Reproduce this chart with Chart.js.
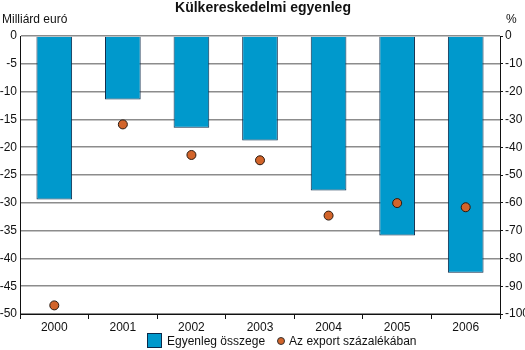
<!DOCTYPE html>
<html>
<head>
<meta charset="utf-8">
<script src="https://cdn.jsdelivr.net/npm/chart.js@4"></script>
<style>
  body { margin: 0; background: #fff; }
  #wrap { position: relative; width: 525px; height: 350px; }
  #legend { position: absolute; left: 147px; top: 333px; font: 12px "Liberation Sans Narrow", "Liberation Sans", Arial, sans-serif; color: #111; white-space: nowrap; }
  #legend span { display: inline-block; vertical-align: middle; }
  .box { width: 13px; height: 13px; background: #0099cc; border: 1px solid #0b2a4a; margin-right: 5px; }
  .dot { width: 6px; height: 6px; border-radius: 50%; background: #d2642a; border: 1px solid #333; margin: 0 4px 0 12px; }
</style>
</head>
<body>
<div id="wrap">
  <canvas id="chart" width="525" height="350"></canvas>
  <div id="legend">
    <span class="box"></span><span>Egyenleg összege</span><span class="dot"></span><span>Az export százalékában</span>
  </div>
</div>
<script>
const years = ["2000", "2001", "2002", "2003", "2004", "2005", "2006"]
const balance = [-29.4, -11.4, -16.5, -18.8, -27.8, -35.9, -42.6]
const exportPct = [-96.9, -31.8, -42.8, -44.7, -64.6, -60.1, -61.6]
const chartTitle = "Külkereskedelmi egyenleg"
const leftUnit = "Milliárd euró"
const rightUnit = "%"

const fontFamily = '"Liberation Sans Narrow", "Liberation Sans", Arial, sans-serif'

const textPlugin = {
  id: "texts",
  afterDraw(chart) {
    const ctx = chart.ctx
    ctx.save()
    ctx.fillStyle = "#111"
    ctx.textBaseline = "middle"
    ctx.font = "bold 14px " + fontFamily
    ctx.textAlign = "center"
    ctx.fillText(chartTitle, 263, 8)
    ctx.font = "12px " + fontFamily
    ctx.textAlign = "left"
    ctx.fillText(leftUnit, 2, 20)
    ctx.fillText(rightUnit, 506, 20)
    ctx.restore()
  }
}

const chartCanvas = document.getElementById("chart")
const myChart = new Chart(chartCanvas, {
  data: {
    labels: years,
    datasets: [
      {
        type: "line",
        label: "Az export százalékában",
        data: exportPct,
        yAxisID: "y1",
        showLine: false,
        pointRadius: 4.5,
        pointBackgroundColor: "#d2642a",
        pointBorderColor: "#2a1a10",
        pointBorderWidth: 1
      },
      {
        type: "bar",
        label: "Egyenleg összege",
        data: balance,
        yAxisID: "y",
        backgroundColor: "#0099cc",
        borderColor: "#0b2a4a",
        borderWidth: 1,
        barPercentage: 0.52,
        categoryPercentage: 1
      }
    ]
  },
  options: {
    responsive: false,
    animation: false,
    layout: { padding: { top: 36, left: 0, right: 0, bottom: 0 } },
    plugins: {
      legend: { display: false },
      tooltip: { enabled: false }
    },
    scales: {
      x: {
        offset: true,
        grid: { offset: true, drawOnChartArea: false, tickLength: 5, color: "#111" },
        border: { color: "#111", width: 1 },
        ticks: { color: "#111", font: { family: fontFamily, size: 12 }, padding: 1 },
        afterFit(scale) { scale.height = 36 }
      },
      y: {
        position: "left",
        min: -50, max: 0,
        ticks: { stepSize: 5, color: "#111", font: { family: fontFamily, size: 12 }, padding: 3 },
        grid: { color: "#8c8c8c", lineWidth: 1.5, tickLength: 0 },
        border: { color: "#111", width: 1 },
        afterFit(scale) { scale.width = 20 }
      },
      y1: {
        position: "right",
        min: -100, max: 0,
        ticks: { stepSize: 10, color: "#111", font: { family: fontFamily, size: 12 }, padding: 2 },
        grid: { drawOnChartArea: false, tickLength: 3, color: "#111" },
        border: { color: "#111", width: 1 },
        afterFit(scale) { scale.width = 25 }
      }
    }
  },
  plugins: [textPlugin]
})
</script>
</body>
</html>
